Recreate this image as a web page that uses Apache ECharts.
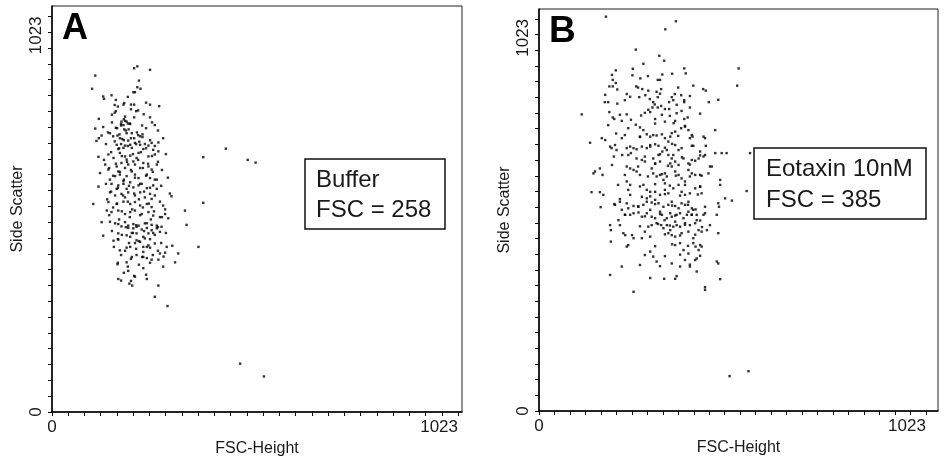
<!DOCTYPE html>
<html>
<head>
<meta charset="utf-8">
<script src="https://cdn.jsdelivr.net/npm/echarts@6/dist/echarts.min.js"></script>
<style>
  html, body { margin: 0; padding: 0; background: #fff; }
  #chart { width: 945px; height: 462px; }
</style>
</head>
<body>
<div id="chart"></div>
<script>
// Flow cytometry dot plots: FSC-Height vs Side Scatter (channels 0-1023)

// Panel A: buffer-treated cells [FSC-Height, Side Scatter]
const bufferEvents = [
  [207,889],[215,894],[247,885],[109,870],[101,836],[219,857],[215,840],[223,836],[205,827],[209,827],
  [129,816],[150,819],[191,815],[161,807],[182,799],[180,795],[158,794],[199,795],[207,795],[247,795],
  [270,791],[199,783],[212,778],[161,778],[158,774],[231,770],[207,762],[118,758],[247,762],[181,757],
  [184,753],[175,751],[188,751],[174,745],[180,742],[191,746],[197,745],[259,742],[129,737],[161,735],
  [109,733],[182,731],[193,731],[146,721],[170,718],[165,715],[188,721],[201,721],[217,716],[228,718],
  [228,711],[125,715],[118,708],[171,708],[177,706],[192,702],[207,708],[112,701],[158,700],[268,697],[220,699],
  [163,691],[174,693],[184,689],[197,691],[209,696],[222,691],[234,693],[243,689],[251,696],[180,683],
  [167,680],[201,683],[230,680],[255,678],[268,674],
  [117,660],[142,666],[171,670],[184,661],[197,663],[213,657],[218,670],[243,661],[259,666],[155,657],[188,653],[205,648],
  [121,618],[134,640],[142,627],[163,635],[175,644],[184,631],[192,640],[209,640],[222,631],[230,644],
  [243,635],[251,627],[264,640],[167,622],[201,622],
  [159,610],[171,614],[188,610],[209,614],[218,605],[239,614],[247,605],[259,601],[146,601],[180,597],
  [117,583],[150,590],[167,586],[180,590],[197,594],[205,581],[218,586],[226,590],[239,579],[255,586],
  [163,577],[188,577],[264,577],
  [146,568],[159,560],[175,564],[192,568],[209,560],[222,568],[234,555],[247,564],[184,555],[251,551],[301,558],
  [104,538],[142,543],[163,538],[180,544],[197,538],[209,543],[222,534],[239,538],[251,530],[280,534],
  [138,521],[150,517],[167,521],[184,512],[197,517],[209,521],[226,512],[243,517],[255,508],[285,512],
  [293,501],[335,521],[272,504],
  [125,491],[146,492],[167,486],[184,491],[192,482],[205,486],[218,482],[234,488],[251,484],[264,482],
  [175,480],[339,484],
  [192,476],[205,475],[213,479],[226,472],[239,476],[251,470],[264,475],[272,466],[276,479],[201,463],
  [213,462],[230,453],[243,462],[255,463],[188,457],[197,453],[234,449],[213,444],[167,462],[129,456],
  [155,443],[167,446],[209,437],[222,440],[243,431],[259,436],[171,418],[188,425],[197,427],[230,427],
  [247,425],[289,427],[303,430],[369,427],[230,414],[272,410],[285,412],[318,410],[213,406],[201,401],
  [239,398],[230,401],[251,394],[268,394],[281,402],[165,382],[188,387],[310,387],[230,372],[192,365],
  [207,352],[239,344],[167,344],[174,340],[199,339],[195,332],[202,327],[268,327],[259,298],[291,274],
  [438,681],[493,652],[513,645],[381,659],[381,541],[474,125],[534,92],
  // dense core of the population
  [151,749],[174,741],[196,746],[227,741],[252,749],
  [141,723],[164,734],[186,728],[214,723],[237,734],[267,728],
  [154,713],[181,703],[199,708],[222,713],[247,703],[280,708],
  [136,693],[169,682],[191,688],[212,693],[237,682],[259,688],
  [149,672],[176,662],[204,667],[224,672],[252,662],[287,667],
  [131,652],[161,642],[189,647],[217,652],[242,642],[267,647],
  [144,631],[171,621],[199,626],[229,631],[254,621],[277,626],
  [154,611],[181,601],[209,606],[237,611],[264,601],[292,606],
  [136,590],[166,580],[194,585],[222,590],[247,580],[275,585],
  [149,570],[179,560],[207,565],[232,570],[259,560],[297,565],
  [139,550],[164,539],[191,544],[219,550],[244,539],[272,544],
  [154,529],[176,519],[202,524],[229,529],[257,519],[285,524],
  [144,509],[169,498],[196,504],[222,509],[249,498],[277,504],
  [159,488],[186,478],[212,483],[239,488],[267,478],
  [151,468],[176,458],[204,463],[232,468],[259,458],[287,463],
  [166,447],[194,437],[219,442],[247,447],[275,437],
  [156,427],[184,417],[212,422],[239,427],[267,417],
  [174,406],[199,396],[227,401],[254,406],
  [166,386],[191,376],[219,381],[247,386],[280,376],
  [181,360],[209,350],[237,355],
  [131,810],[166,790],[217,780],[184,764],[237,800],[151,769]
];

// Panel B: eotaxin 10nM-treated cells [FSC-Height, Side Scatter]
const eotaxinEvents = [
  [177,1029],[362,1017],[334,996],[256,943],[318,927],[331,914],[276,906],[203,889],[248,893],[384,894],
  [388,881],[528,894],[326,878],[247,876],[268,868],[195,864],[314,864],[320,864],[203,856],[186,847],
  [195,847],[257,847],[262,844],[207,839],[273,840],[289,836],[311,833],[323,840],[368,844],[408,849],
  [434,840],[441,836],[524,849],[232,827],[227,811],[265,819],[281,824],[293,814],[302,806],[314,819],
  [351,819],[359,827],[376,824],[355,811],[344,806],[384,811],[384,806],[449,806],[474,812],[174,806],
  [183,806],[207,802],[306,800],[364,799],
  [113,774],[186,780],[195,766],[199,762],[232,774],[243,760],[219,757],[270,771],[289,786],[294,780],
  [300,792],[314,792],[323,796],[333,788],[307,762],[325,773],[333,755],[344,788],[356,751],[360,757],
  [364,777],[377,783],[384,762],[393,766],[399,792],
  [256,747],[267,740],[276,733],[267,716],[285,722],[294,716],[302,720],[311,719],[236,738],[204,724],
  [219,712],[166,712],[175,707],[135,700],[188,690],[192,686],[205,681],[232,686],[241,690],[250,686],
  [258,683],[272,690],[285,686],[294,694],[307,696],[316,692],
  [333,712],[347,716],[351,725],[342,703],[360,729],[376,738],[386,742],[395,733],[404,720],[399,712],
  [406,716],[466,733],[435,716],
  [333,687],[338,681],[326,677],[342,668],[360,694],[369,681],[355,668],[377,686],[408,692],[426,677],[441,692],
  [220,668],[243,673],[258,659],[272,655],[280,651],[302,659],[307,646],[320,651],[316,668],[351,659],
  [347,646],[360,651],[369,642],[382,659],[395,646],[404,655],[413,653],[422,659],[435,664],[439,668],
  [466,673],[483,673],[496,673],[558,673],[198,664],
  [232,638],[241,633],[250,629],[144,620],[148,625],[161,633],[168,616],[258,625],[267,616],[298,633],
  [302,620],[311,612],[320,616],[333,620],[338,612],[329,603],[333,594],[351,638],[360,625],[369,616],
  [377,607],[386,599],[399,612],[395,629],[404,620],[426,616],[430,614],[457,638],[448,620],[479,603],[479,590],
  [232,599],[241,590],[236,577],[276,590],[285,577],[294,572],[307,572],[320,564],[333,577],[342,568],
  [355,581],[369,590],[377,572],[386,564],[399,568],[413,581],[426,586],[430,568],[139,571],[161,571],
  [170,564],[214,553],[272,559],[285,555],[492,555],[549,574],
  [163,532],[199,540],[214,546],[232,542],[236,529],[250,535],[263,533],[276,538],[285,546],[298,544],
  [307,551],[316,542],[329,533],[342,538],[351,546],[360,535],[369,529],[377,542],[386,538],[395,546],
  [404,529],[408,525],[414,526],[474,542],[510,549],
  [219,525],[228,512],[241,512],[250,516],[263,518],[272,507],[285,516],[294,525],[298,507],[307,503],
  [320,520],[325,512],[332,498],[338,503],[347,516],[351,507],[360,494],[364,512],[373,516],[382,503],
  [391,512],[395,520],[404,512],[417,512],[417,498],[426,497],[435,512],[439,516],[470,512],[476,533],
  [188,485],[190,472],[210,498],[223,464],[228,459],[232,429],[250,451],[272,451],[280,468],[289,481],
  [298,485],[311,490],[323,485],[329,477],[338,485],[347,472],[355,481],[364,485],[373,481],[386,490],
  [399,485],[413,490],[342,464],[351,459],[360,455],[377,464],[395,468],[408,451],[422,472],[430,468],
  [444,472],[452,485],[474,464],[190,442],
  [360,433],[373,438],[382,420],[395,411],[408,438],[414,429],[422,420],[426,433],[430,429],[413,394],
  [417,398],[294,416],[302,403],[311,390],[351,385],[373,377],[386,394],[399,377],[219,377],[417,364],
  [470,390],[474,385],[188,355],[331,345],[364,352],[479,344],[250,311],[439,323],[439,316],
  [554,104],[504,91],
  // dense core of the population
  [193,877],[288,874],[352,880],
  [175,825],[241,820],[320,828],[399,822],
  [214,773],[280,778],[346,770],[426,776],
  [183,746],[307,750],[386,744],
  [227,720],[267,715],[325,722],[368,718],[439,712],
  [201,694],[294,690],[352,697],[404,692],
  [236,668],[280,664],[320,670],[378,662],[426,667],
  [193,642],[262,638],[307,645],[341,640],[399,643],[452,638],
  [227,616],[288,612],[325,618],[362,614],[413,616],
  [209,590],[267,586],[307,592],[346,588],[386,590],[426,585],
  [241,564],[294,560],[333,566],[373,562],[420,565],
  [201,538],[262,534],[307,540],[352,536],[394,538],[439,533],
  [227,512],[280,508],[320,514],[360,510],[404,512],
  [214,485],[267,482],[315,488],[346,484],[386,486],[431,480],
  [246,459],[294,455],[333,461],[373,458],[413,460],
  [236,433],[307,430],[352,435],[394,431],
  [280,407],[333,404],[373,408],[426,405],
  [267,381],[320,378],[399,382],
  [294,347],[360,345]
];

const panelLetters = ['A', 'B'];
const panelNotes = [['Buffer', 'FSC = 258'], ['Eotaxin 10nM', 'FSC = 385']];
const endLabels = [0, 1023];
// 25 tick intervals across the 1024-channel range
const channelTicks = Array.from({ length: 26 }, (_, i) => +(i * 1023 / 25).toFixed(2));

const FONT = '"Liberation Sans", Arial, Helvetica, sans-serif';
const INK = '#1a1a1a';
const plainNumber = v => String(Math.round(v));

function xAxisFor(gridIndex, max, nameGap) {
  return {
    type: 'value', gridIndex, min: 0, max,
    name: 'FSC-Height', nameLocation: 'middle', nameGap,
    nameTextStyle: { fontFamily: FONT, fontSize: 16, color: INK },
    axisLine: { show: true, onZero: false, lineStyle: { color: '#000', width: 1.5 } },
    axisTick: { show: true, inside: false, length: 4, customValues: channelTicks, lineStyle: { color: '#000', width: 1 } },
    axisLabel: { customValues: endLabels, formatter: plainNumber, margin: 7, fontFamily: FONT, fontSize: 17, color: INK, alignMaxLabel: 'right' },
    splitLine: { show: false }
  };
}
function yAxisFor(gridIndex, max) {
  return {
    type: 'value', gridIndex, min: 0, max,
    name: 'Side Scatter', nameLocation: 'middle', nameGap: 26,
    nameTextStyle: { fontFamily: FONT, fontSize: 16, color: INK },
    axisLine: { show: true, onZero: false, lineStyle: { color: '#000', width: 1.5 } },
    axisTick: { show: true, inside: false, length: 4, customValues: channelTicks, lineStyle: { color: '#000', width: 1 } },
    axisLabel: { customValues: endLabels, formatter: plainNumber, rotate: 90, margin: 7, fontFamily: FONT, fontSize: 17, color: INK, alignMaxLabel: 'right' },
    splitLine: { show: false }
  };
}
function dots(i, data) {
  return {
    type: 'scatter', xAxisIndex: i, yAxisIndex: i, data,
    symbol: 'rect', symbolSize: 2.4, silent: true,
    itemStyle: { color: '#000' }
  };
}
function note(box, lines) {
  return {
    type: 'group',
    children: [
      { type: 'rect', shape: { x: box.x, y: box.y, width: box.w, height: box.h },
        style: { fill: '#fff', stroke: '#111', lineWidth: 1.5 } },
      { type: 'text', style: { x: box.tx, y: box.l1, text: lines[0], font: '24px ' + FONT, fill: INK, verticalAlign: 'middle' } },
      { type: 'text', style: { x: box.tx, y: box.l2, text: lines[1], font: '24px ' + FONT, fill: INK, verticalAlign: 'middle' } }
    ]
  };
}

const chart = echarts.init(document.getElementById('chart'), null, { renderer: 'canvas' });
chart.setOption({
  animation: false,
  backgroundColor: '#fff',
  grid: [
    { left: 52, top: 6, width: 410, height: 411, show: true, borderColor: '#222', borderWidth: 1, containLabel: false },
    { left: 539, top: 9, width: 399, height: 402, show: true, borderColor: '#222', borderWidth: 1, containLabel: false }
  ],
  xAxis: [xAxisFor(0, 1033, 29), xAxisFor(1, 1055, 22)],
  yAxis: [yAxisFor(0, 1050), yAxisFor(1, 1049)],
  series: [dots(0, bufferEvents), dots(1, eotaxinEvents)],
  graphic: [
    { type: 'text', style: { x: 62, y: 29, text: panelLetters[0], font: 'bold 36px ' + FONT, fill: '#000', verticalAlign: 'middle' } },
    { type: 'text', style: { x: 549, y: 32, text: panelLetters[1], font: 'bold 37px ' + FONT, fill: '#000', verticalAlign: 'middle' } },
    note({ x: 305, y: 159, w: 140, h: 70, tx: 316, l1: 180, l2: 210 }, panelNotes[0]),
    note({ x: 754, y: 148, w: 172, h: 71, tx: 766, l1: 169, l2: 200 }, panelNotes[1])
  ]
});
</script>
</body>
</html>
